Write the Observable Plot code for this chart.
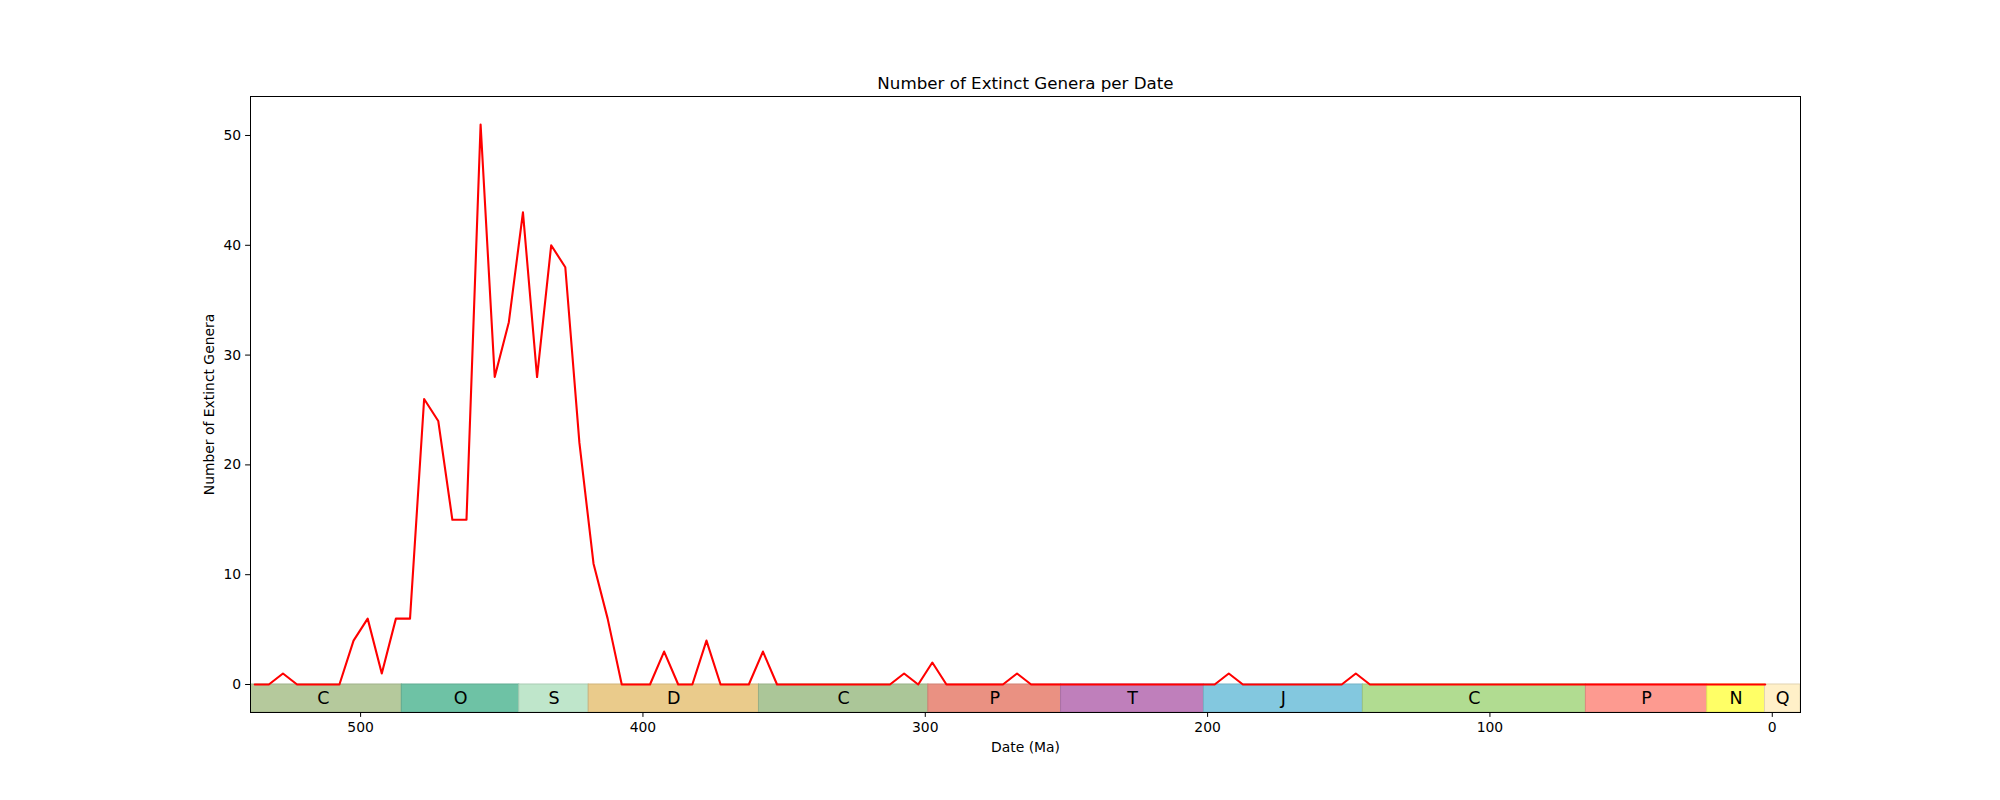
<!DOCTYPE html>
<html><head><meta charset="utf-8">
<script src="https://cdn.jsdelivr.net/npm/d3@7"></script>
<script src="https://cdn.jsdelivr.net/npm/@observablehq/plot@0.6"></script>
<style>body{margin:0;background:#fff}</style>
</head><body><div id="chart"></div>
<script>
const dates = [
  537.5, 532.5, 527.5, 522.5, 517.5, 512.5, 507.5, 502.5, 497.5, 492.5,
  487.5, 482.5, 477.5, 472.5, 467.5, 462.5, 457.5, 452.5, 447.5, 442.5,
  437.5, 432.5, 427.5, 422.5, 417.5, 412.5, 407.5, 402.5, 397.5, 392.5,
  387.5, 382.5, 377.5, 372.5, 367.5, 362.5, 357.5, 352.5, 347.5, 342.5,
  337.5, 332.5, 327.5, 322.5, 317.5, 312.5, 307.5, 302.5, 297.5, 292.5,
  287.5, 282.5, 277.5, 272.5, 267.5, 262.5, 257.5, 252.5, 247.5, 242.5,
  237.5, 232.5, 227.5, 222.5, 217.5, 212.5, 207.5, 202.5, 197.5, 192.5,
  187.5, 182.5, 177.5, 172.5, 167.5, 162.5, 157.5, 152.5, 147.5, 142.5,
  137.5, 132.5, 127.5, 122.5, 117.5, 112.5, 107.5, 102.5, 97.5, 92.5,
  87.5, 82.5, 77.5, 72.5, 67.5, 62.5, 57.5, 52.5, 47.5, 42.5,
  37.5, 32.5, 27.5, 22.5, 17.5, 12.5, 7.5, 2.5
];
const counts = [
  0, 0, 1, 0, 0, 0, 0, 4, 6, 1,
  6, 6, 26, 24, 15, 15, 51, 28, 33, 43,
  28, 40, 38, 22, 11, 6, 0, 0, 0, 3,
  0, 0, 4, 0, 0, 0, 3, 0, 0, 0,
  0, 0, 0, 0, 0, 0, 1, 0, 2, 0,
  0, 0, 0, 0, 1, 0, 0, 0, 0, 0,
  0, 0, 0, 0, 0, 0, 0, 0, 0, 1,
  0, 0, 0, 0, 0, 0, 0, 0, 1, 0,
  0, 0, 0, 0, 0, 0, 0, 0, 0, 0,
  0, 0, 0, 0, 0, 0, 0, 0, 0, 0,
  0, 0, 0, 0, 0, 0, 0, 0
];
const periodNames  = ["C", "O", "S", "D", "C", "P", "T", "J", "C", "P", "N", "Q"];
const periodStarts = [541, 485.4, 443.8, 419.2, 358.9, 298.9, 251.9, 201.3, 145, 66, 23.03, 2.58];
const periodEnds   = [485.4, 443.8, 419.2, 358.9, 298.9, 251.9, 201.3, 145, 66, 23.03, 2.58, -10];
const periodColors = ["#b5c99c", "#6ec2a5", "#bfe6cb", "#eacb8b", "#abc698", "#ea9182",
                      "#bf7fbb", "#83c8df", "#b1dc91", "#fd9a90", "#ffff66", "#fff0c8"];
const xTicks = [500, 400, 300, 200, 100, 0];
const yTicks = [0, 10, 20, 30, 40, 50];
const xDomain = [539, -10];
const yDomain = [-2.55, 53.55];

const series = dates.map((d, i) => ({date: d, count: counts[i]}));
const periods = periodNames.map((n, i) => ({
  name: n, start: periodStarts[i], end: periodEnds[i], color: periodColors[i],
  edge: d3.color(periodColors[i]).darker(0.35).formatHex()
}));

const font = "DejaVu Sans, sans-serif";
const chart = Plot.plot({
  width: 2000, height: 800,
  marginLeft: 250, marginRight: 200, marginTop: 96, marginBottom: 88,
  style: {fontFamily: font, fontSize: "13.9px", background: "#fff", color: "#000"},
  x: {domain: xDomain, label: null},
  y: {domain: yDomain, label: null},
  marks: [
    Plot.rect(periods, {x1: "start", x2: "end", y1: yDomain[0], y2: 0,
      fill: d => d.color, stroke: d => d.edge, strokeWidth: 1, clip: true}),
    Plot.text(periods, {x: d => (d.start + d.end) / 2, y: yDomain[0] / 2,
      text: "name", fontSize: 17.5, fill: "#000", lineAnchor: "middle", clip: true}),
    Plot.line(series, {x: "date", y: "count", stroke: "red", strokeWidth: 2.1}),
    Plot.frame({stroke: "#000", strokeWidth: 1}),
    Plot.axisX({ticks: xTicks, tickSize: 4.9, tickPadding: 4.5, label: null, tickFormat: d => String(d)}),
    Plot.axisY({ticks: yTicks, tickSize: 4.9, tickPadding: 4.5, label: null, tickFormat: d => String(d)}),
    Plot.text(["Number of Extinct Genera per Date"], {frameAnchor: "top", lineAnchor: "middle", textAnchor: "middle", dy: -13.3, fontSize: 16.7, fill: "#000"}),
    Plot.text(["Date (Ma)"], {frameAnchor: "bottom", lineAnchor: "middle", textAnchor: "middle", dy: 34.6, fontSize: 13.9, fill: "#000"}),
    Plot.text(["Number of Extinct Genera"], {frameAnchor: "left", lineAnchor: "middle", textAnchor: "middle", dx: -41, rotate: -90, fontSize: 13.9, fill: "#000"})
  ]
});
document.getElementById("chart").appendChild(chart);
</script>
</body></html>
